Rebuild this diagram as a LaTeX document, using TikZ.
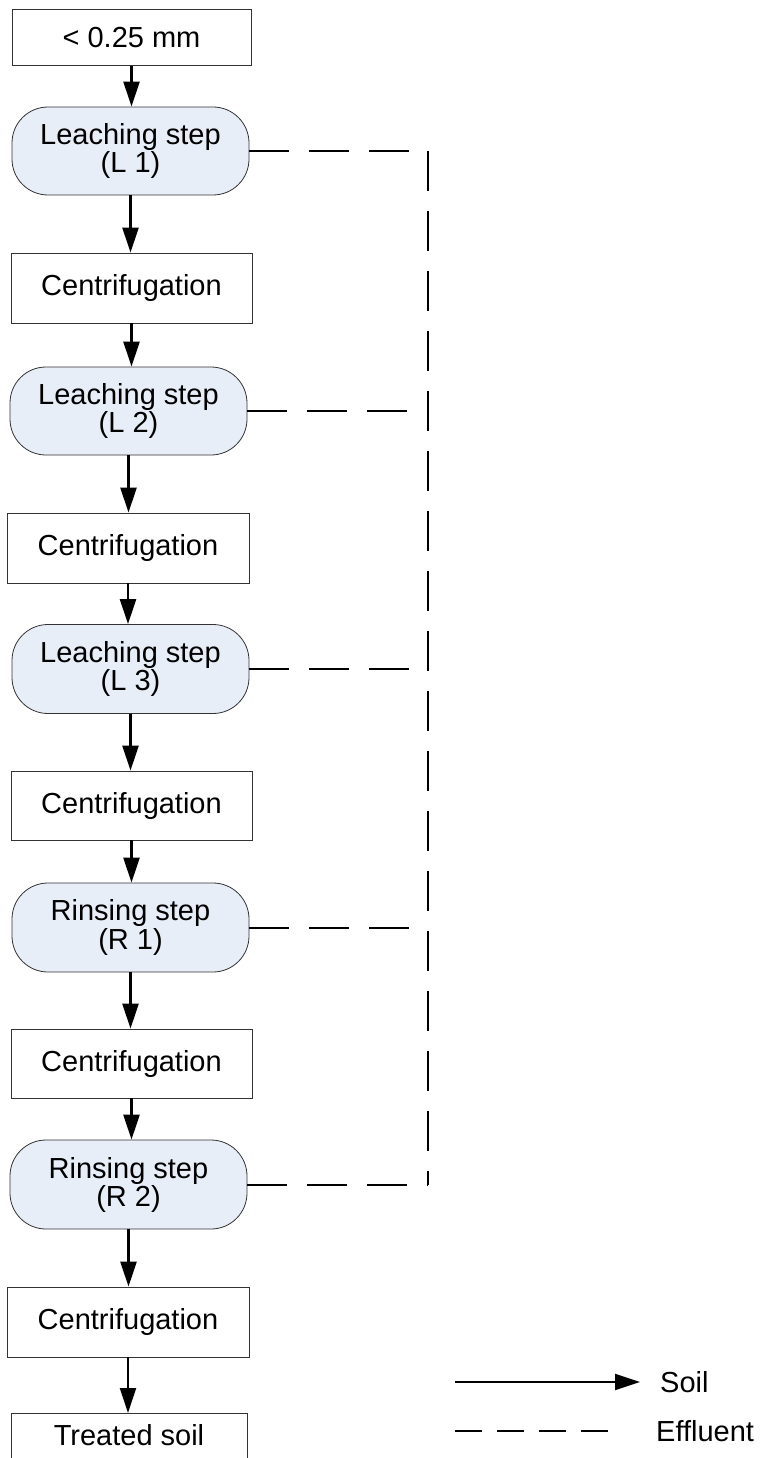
\documentclass[tikz,border=0pt]{standalone}
\usepackage{fontspec}
\setmainfont{Liberation Sans}
\usetikzlibrary{arrows.meta}
\definecolor{stepfill}{RGB}{232,238,248}
\tikzset{
 box/.style={draw=black!80,line width=0.8pt,minimum width=241pt,minimum height=70pt,inner sep=0pt,align=center,font=\fontsize{29}{26}\selectfont},
 stepbox/.style={box,rounded corners=36pt,fill=stepfill,minimum width=237pt,minimum height=89pt},
 soil/.style={line width=2.2pt,-{Triangle[length=25pt,width=16pt]}},
 effluent/.style={line width=2pt,dash pattern=on 40pt off 20pt},
 legend/.style={anchor=west,inner sep=0pt,font=\fontsize{29}{26}\selectfont},
}
\begin{document}
\begin{tikzpicture}[x=1pt,y=-1pt]
 \useasboundingbox (0,0) rectangle (761,1458);
 \clip (0,0) rectangle (761,1458);
 \node[box,minimum width=239pt,minimum height=56pt] (in0) at (131.5,37.5) {< 0.25 mm};
 \node[stepbox,minimum height=88pt] (l1) at (130.5,151) {Leaching step\\(L 1)};
 \node[box] (c1) at (131.5,288) {Centrifugation};
 \node[stepbox,minimum height=88pt] (l2) at (128.5,411) {Leaching step\\(L 2)};
 \node[box,minimum width=242pt] (c2) at (128,548) {Centrifugation};
 \node[stepbox] (l3) at (130.5,669) {Leaching step\\(L 3)};
 \node[box,minimum height=69pt] (c3) at (131.5,805.5) {Centrifugation};
 \node[stepbox] (r1) at (130.5,927.5) {Rinsing step\\(R 1)};
 \node[box,minimum height=69pt] (c4) at (131.5,1063.5) {Centrifugation};
 \node[stepbox] (r2) at (128.5,1184.5) {Rinsing step\\(R 2)};
 \node[box,minimum width=242pt] (c5) at (128,1322) {Centrifugation};
 \node[box,minimum width=236pt,minimum height=0pt,text height=32pt,text depth=40pt,anchor=north] (out) at (129,1413) {Treated soil};
 \foreach \a/\b in {in0/l1,l1/c1,c1/l2,l2/c2,c2/l3,l3/c3,c3/r1,r1/c4,c4/r2,r2/c5,c5/out}
  \draw[soil] (\a.south) -- (\a.south |- \b.north);
 \coordinate (spine) at (428,0);
 \foreach \s in {l1,l2,l3,r1,r2}
  \draw[effluent] (\s.east) -- (\s.east -| spine);
 \draw[effluent] (l1.east -| spine) -- (r2.east -| spine);
 \coordinate (soilA) at (455,1382);
 \coordinate (soilB) at (640,1382);
 \draw[soil] (soilA) -- (soilB);
 \node[legend] (soillbl) at (660,1382) {Soil};
 \coordinate (effA) at (455,1431);
 \coordinate (effB) at (610,1431);
 \draw[line width=2pt,dash pattern=on 27pt off 15pt] (effA) -- (effB);
 \node[legend] (efflbl) at (656,1431) {Effluent};
\end{tikzpicture}
\end{document}
